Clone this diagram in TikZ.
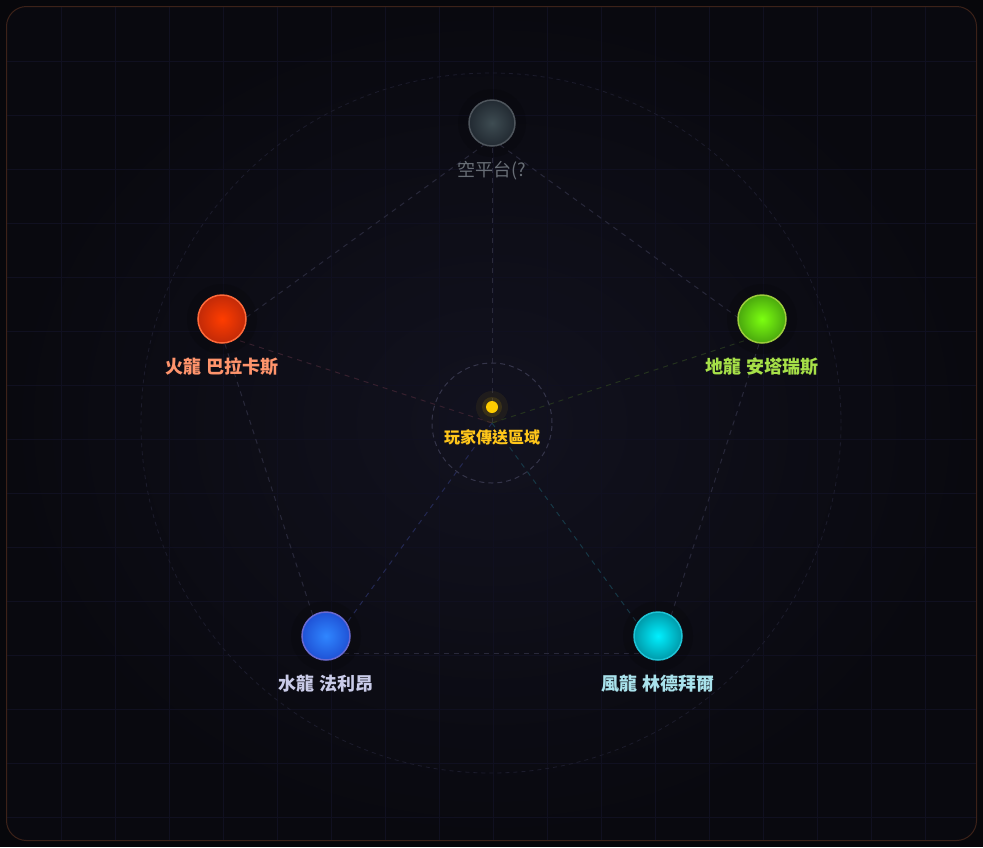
\documentclass[tikz,border=0pt]{standalone}
\usepackage{fontspec}
\usepackage{tikz}
\newfontfamily\cjk{Noto Sans CJK TC}

\definecolor{pagebg}{HTML}{07070B}
\definecolor{panelin}{HTML}{12121F}
\definecolor{panelout}{HTML}{09090F}
\definecolor{gridcol}{HTML}{101020}
\definecolor{rimcol}{HTML}{3C2219}
\definecolor{ringcol}{HTML}{1C1C2C}
\definecolor{hubcol}{HTML}{35354A}
\definecolor{edgecol}{HTML}{28283A}
\definecolor{spoketop}{HTML}{2A2A3A}
\definecolor{spokefire}{HTML}{36202E}
\definecolor{spokeearth}{HTML}{24321E}
\definecolor{spokewater}{HTML}{232852}
\definecolor{spokewind}{HTML}{163846}
\definecolor{topin}{HTML}{3E4C52}
\definecolor{topout}{HTML}{222A32}
\definecolor{toprim}{HTML}{4E555C}
\definecolor{firein}{HTML}{FF3D00}
\definecolor{fireout}{HTML}{C22A08}
\definecolor{firerim}{HTML}{FF6A3A}
\definecolor{earthin}{HTML}{7CFF10}
\definecolor{earthout}{HTML}{4AA80E}
\definecolor{earthrim}{HTML}{9CCC3C}
\definecolor{waterin}{HTML}{2F86FF}
\definecolor{waterout}{HTML}{1F52D6}
\definecolor{waterrim}{HTML}{6A6AD0}
\definecolor{windin}{HTML}{00F0FF}
\definecolor{windout}{HTML}{009AAA}
\definecolor{windrim}{HTML}{1EC4D6}
\definecolor{toptxt}{HTML}{676D75}
\definecolor{firetxt}{HTML}{FF946C}
\definecolor{earthtxt}{HTML}{A6E048}
\definecolor{watertxt}{HTML}{C9CBE8}
\definecolor{windtxt}{HTML}{A9E2EC}
\definecolor{hubtxt}{HTML}{FFC61A}
\definecolor{hubdot}{HTML}{FFCC00}

\begin{document}
\begin{tikzpicture}[x=1pt, y=-1pt,
  dragon/.style={circle, minimum size=48pt, inner sep=0pt, line width=1.5pt},
  halo/.style={fill=black, opacity=0.15},
  dlabel/.style={font=\cjk\bfseries\fontsize{18}{20}\selectfont},
  link/.style={line width=1pt, dash pattern=on 5pt off 5pt},
  gridline/.style={draw=gridcol, line width=0.7pt}]
\useasboundingbox (0,0) rectangle (983,847);
\fill[pagebg] (0,0) rectangle (983,847);
\shade[rounded corners=20pt, inner color=panelin, outer color=panelout] (6.5,6.5) rectangle (976.5,840.5);
\begin{scope}
\clip[rounded corners=20pt] (7,7) rectangle (976,840);
\foreach \x in {61,115,...,925} \draw[gridline] (\x,7) -- (\x,840);
\foreach \y in {61,115,...,817} \draw[gridline] (7,\y) -- (976,\y);
\end{scope}
\draw[rimcol, line width=1pt, rounded corners=20pt] (6.5,6.5) rectangle (976.5,840.5);
\draw[ringcol, line width=0.8pt, dash pattern=on 4pt off 4pt] (491,423) circle (350pt);

\coordinate (hub) at (492,423);
\coordinate (ptop) at (492,139);
\coordinate (pfire) at (222,335);
\coordinate (pearth) at (762,335);
\coordinate (pwater) at (325,653);
\coordinate (pwind) at (659,653);

\draw[link, edgecol] (ptop) -- (pearth);
\draw[link, edgecol] (pearth) -- (pwind);
\draw[link, edgecol] (pwind) -- (pwater);
\draw[link, edgecol] (pwater) -- (pfire);
\draw[link, edgecol] (pfire) -- (ptop);
\draw[link, spoketop] (hub) -- (ptop);
\draw[link, spokefire] (hub) -- (pfire);
\draw[link, spokeearth] (hub) -- (pearth);
\draw[link, spokewater] (hub) -- (pwater);
\draw[link, spokewind] (hub) -- (pwind);

\draw[hubcol, line width=1pt, dash pattern=on 5pt off 4pt] (hub) circle (60pt);
\fill[hubdot, opacity=0.06] (492,407) circle (16pt);
\fill[hubdot, opacity=0.12] (492,407) circle (10pt);
\node[circle, fill=hubdot, minimum size=12pt, inner sep=0pt] (dot) at (492,407) {};
\node[text=hubtxt, font=\cjk\bfseries\fontsize{16}{18}\selectfont] (hublbl) at (492,437) {玩家傳送區域};

\fill[halo] (492,123) circle (34pt);
\fill[halo] (222,319) circle (35pt);
\fill[halo] (762,319) circle (35pt);
\fill[halo] (326,636) circle (35pt);
\fill[halo] (658,636) circle (35pt);

\node[dragon, draw=toprim, inner color=topin, outer color=topout, minimum size=46pt] (top) at (492,123) {};
\node[dragon, draw=firerim, inner color=firein, outer color=fireout] (fire) at (222,319) {};
\node[dragon, draw=earthrim, inner color=earthin, outer color=earthout] (earth) at (762,319) {};
\node[dragon, draw=waterrim, inner color=waterin, outer color=waterout] (water) at (326,636) {};
\node[dragon, draw=windrim, inner color=windin, outer color=windout] (wind) at (658,636) {};

\node[text=toptxt, font=\cjk\fontsize{18}{20}\selectfont] (toplbl) at (492,171) {空平台(?};
\node[dlabel, text=firetxt] (firelbl) at (222,367) {火龍 巴拉卡斯};
\node[dlabel, text=earthtxt] (earthlbl) at (762,367) {地龍 安塔瑞斯};
\node[dlabel, text=watertxt] (waterlbl) at (326,684) {水龍 法利昂};
\node[dlabel, text=windtxt] (windlbl) at (658,684) {風龍 林德拜爾};
\end{tikzpicture}
\end{document}
